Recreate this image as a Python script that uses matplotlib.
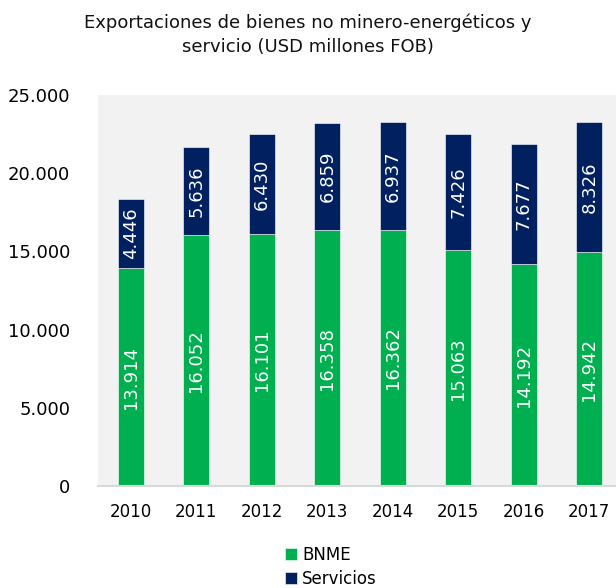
import numpy as np
import matplotlib.pyplot as plt

years = ['2010', '2011', '2012', '2013', '2014', '2015', '2016', '2017']
bnme = [13914, 16052, 16101, 16358, 16362, 15063, 14192, 14942]
servicios = [4446, 5636, 6430, 6859, 6937, 7426, 7677, 8326]
yticks = [0, 5000, 10000, 15000, 20000, 25000]


def fmt(v):
    return '{:,}'.format(v).replace(',', '.')


plt.rcParams['font.family'] = ['DejaVu Sans']

fig = plt.figure(figsize=(6.16, 5.88), dpi=100)
ax = fig.add_axes([98 / 616, 1 - 486 / 588, 524 / 616, 391 / 588])
ax.set_facecolor('#F2F2F2')

x = np.arange(len(years))
w = 0.4
b1 = ax.bar(x, bnme, w, color='#00B050', edgecolor='white', linewidth=0.4, label='BNME')
b2 = ax.bar(x, servicios, w, bottom=bnme, color='#002060', edgecolor='white', linewidth=0.4, label='Servicios')

for i in range(len(years)):
    ax.text(x[i], bnme[i] / 2, fmt(bnme[i]), rotation=90, ha='center', va='center',
            color='white', fontsize=13)
    ax.text(x[i], bnme[i] + servicios[i] / 2, fmt(servicios[i]), rotation=90,
            ha='center', va='center', color='white', fontsize=13)

ax.set_xlim(-0.5, len(years) - 0.5)
ax.set_ylim(0, 25000)
ax.set_xticks(x)
ax.set_xticklabels(years, fontsize=12)
ax.set_yticks(yticks)
ax.set_yticklabels([fmt(v) for v in yticks], fontsize=13)
ax.tick_params(length=0)
ax.tick_params(axis='x', pad=12)
ax.tick_params(axis='y', pad=20)
for s in ['top', 'right', 'left']:
    ax.spines[s].set_visible(False)
ax.spines['bottom'].set_color('#D9D9D9')
ax.spines['bottom'].set_linewidth(1.5)

fig.text(0.5, 1 - 35 / 588, 'Exportaciones de bienes no minero-energéticos y\nservicio (USD millones FOB)',
         ha='center', va='center', fontsize=13, linespacing=1.45, color='#111111')

fig.legend(handles=[b1, b2], loc='center', bbox_to_anchor=(331 / 616, 1 - 567 / 588),
           ncol=1, frameon=False, fontsize=12, handlelength=0.7, handleheight=0.7,
           handletextpad=0.3, labelspacing=0.35, borderpad=0)

fig.savefig('out.png', dpi=100, facecolor='white')
